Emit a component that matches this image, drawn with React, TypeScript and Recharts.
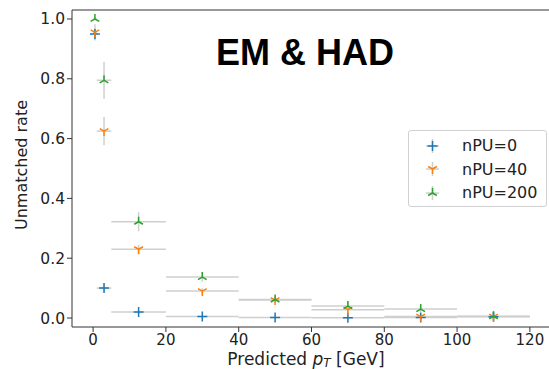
import { ScatterChart, Scatter, XAxis, YAxis, ErrorBar, ReferenceLine, Label } from "recharts"

const binCenters = [0.5, 3, 12.5, 30, 50, 70, 90, 110]
const binHalfWidths = [0.5, 2, 7.5, 10, 10, 10, 10, 10]

const rateNPU0 = [0.95, 0.1, 0.02, 0.005, 0.002, 0.001, 0.002, 0.004]
const errNPU0 = [0.02, 0.008, 0.004, 0.002, 0.002, 0.002, 0.003, 0.005]
const rateNPU40 = [0.955, 0.625, 0.23, 0.09, 0.06, 0.028, 0.005, 0.005]
const errNPU40 = [0.027, 0.047, 0.015, 0.01, 0.01, 0.01, 0.01, 0.012]
const rateNPU200 = [1.0, 0.795, 0.322, 0.137, 0.062, 0.04, 0.03, 0.006]
const errNPU200 = [0.006, 0.062, 0.032, 0.016, 0.012, 0.012, 0.01, 0.015]

const xTicks = [0, 20, 40, 60, 80, 100, 120]
const yTicks = [0, 0.2, 0.4, 0.6, 0.8, 1.0]

const FONT = "'DejaVu Sans', sans-serif"
const AXIS = "#333"
const ERR = "#cfcfcf"

type Marker = "plus" | "triDown" | "triUp"

const series: { name: string; color: string; marker: Marker; rates: number[]; errs: number[] }[] = [
  { name: "nPU=0", color: "#1f77b4", marker: "plus", rates: rateNPU0, errs: errNPU0 },
  { name: "nPU=40", color: "#ff7f0e", marker: "triDown", rates: rateNPU40, errs: errNPU40 },
  { name: "nPU=200", color: "#2ca02c", marker: "triUp", rates: rateNPU200, errs: errNPU200 },
]

function toPoints(rates: number[], errs: number[]) {
  return binCenters.map((x, i) => ({ x, y: rates[i], xErr: binHalfWidths[i], yErr: errs[i] }))
}

function markerPath(kind: Marker, cx: number, cy: number, r: number) {
  const a = r * 0.866
  const b = r * 0.5
  if (kind === "plus") return `M${cx - r},${cy}H${cx + r}M${cx},${cy - r}V${cy + r}`
  if (kind === "triDown")
    return `M${cx},${cy}V${cy + r}M${cx},${cy}L${cx - a},${cy - b}M${cx},${cy}L${cx + a},${cy - b}`
  return `M${cx},${cy}V${cy - r}M${cx},${cy}L${cx - a},${cy + b}M${cx},${cy}L${cx + a},${cy + b}`
}

function makeShape(kind: Marker, color: string) {
  return (props: any) => (
    <path d={markerPath(kind, props.cx, props.cy, 5)} stroke={color} strokeWidth={1.5} fill="none" />
  )
}

// matplotlib-style legend box, placed over the plot area
function LegendBox() {
  return (
    <div
      style={{
        position: "absolute",
        left: 408,
        top: 130,
        width: 139,
        height: 77,
        border: "1px solid #d0d0d0",
        borderRadius: 3,
        background: "rgba(255,255,255,0.8)",
        fontFamily: FONT,
        fontSize: 16,
        color: "#222",
        boxSizing: "border-box",
        paddingTop: 3,
      }}
    >
      {series.map((s) => (
        <div key={s.name} style={{ display: "flex", alignItems: "center", height: 23.5 }}>
          <svg width={46} height={24}>
            <path d="M17,12H30M23.5,5V19" stroke={ERR} strokeWidth={1.5} />
            <path d={markerPath(s.marker, 23.5, 12, 5)} stroke={s.color} strokeWidth={1.5} fill="none" />
          </svg>
          <span style={{ marginLeft: 7 }}>{s.name}</span>
        </div>
      ))}
    </div>
  )
}

export default function App() {
  return (
    <div style={{ position: "absolute", left: 0, top: 0, width: 549, height: 369, overflow: "hidden", background: "#fff" }}>
      <ScatterChart width={560} height={369} margin={{ top: 10, right: 9, left: 0, bottom: 0 }}>
        <XAxis
          type="number"
          dataKey="x"
          domain={[-5.8, 125.8]}
          allowDataOverflow
          ticks={xTicks}
          height={42}
          tickSize={5}
          tickMargin={2}
          stroke={AXIS}
          tick={{ fill: "#222", fontFamily: FONT, fontSize: 15 }}
        >
          <Label
            content={() => (
              <text x={306} y={365} textAnchor="middle" fontFamily={FONT} fontSize={17} fill="#222">
                Predicted <tspan fontStyle="italic">p</tspan>
                <tspan fontStyle="italic" fontSize={12} dy={2}>T</tspan>
                <tspan dy={-2}> [GeV]</tspan>
              </text>
            )}
          />
        </XAxis>
        <YAxis
          type="number"
          dataKey="y"
          domain={[-0.03, 1.03]}
          allowDataOverflow
          ticks={yTicks}
          width={72}
          tickSize={5}
          tickMargin={2}
          stroke={AXIS}
          tickFormatter={(v: number) => v.toFixed(1)}
          tick={{ fill: "#222", fontFamily: FONT, fontSize: 15.5 }}
        >
          <Label
            content={() => (
              <text
                x={27}
                y={165}
                transform="rotate(-90 27 165)"
                textAnchor="middle"
                fontFamily={FONT}
                fontSize={16}
                fill="#222"
              >
                Unmatched rate
              </text>
            )}
          />
        </YAxis>
        <ReferenceLine y={1.03} stroke={AXIS} strokeWidth={1} />
        <ReferenceLine x={125.8} stroke={AXIS} strokeWidth={1} />
        {series.map((s) => (
          <Scatter
            key={s.name}
            name={s.name}
            data={toPoints(s.rates, s.errs)}
            fill={s.color}
            shape={makeShape(s.marker, s.color)}
            isAnimationActive={false}
          >
            <ErrorBar dataKey="xErr" direction="x" width={0} stroke={ERR} strokeWidth={1.5} />
            <ErrorBar dataKey="yErr" direction="y" width={0} stroke={ERR} strokeWidth={1.5} />
          </Scatter>
        ))}
        <text
          x={305}
          y={65}
          textAnchor="middle"
          fontFamily="'Liberation Sans', Arial, sans-serif"
          fontWeight="bold"
          fontSize={36}
          fill="#000"
        >
          EM &amp; HAD
        </text>
      </ScatterChart>
      <LegendBox />
    </div>
  )
}
